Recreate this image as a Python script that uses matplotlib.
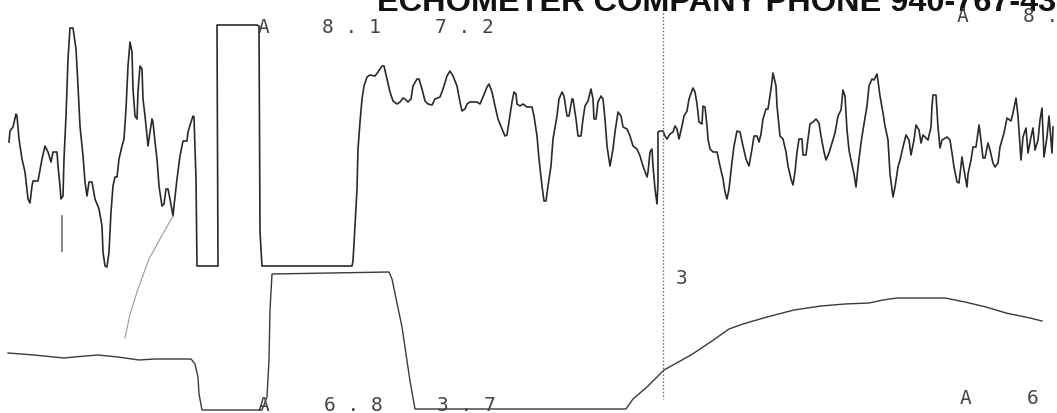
import numpy as np
import matplotlib.pyplot as plt

# chart is a scanned dynamometer/echometer strip; values are in picture units (y down)
upper_x = [9, 10, 13, 16, 17, 19, 22, 25, 28, 30, 32, 33, 38, 42, 45, 48, 51, 53, 57, 58,
           60, 61, 63, 64, 66, 68, 70, 73, 76, 78, 80, 83, 85, 87, 89, 92, 95, 99, 102, 103,
           105, 107, 109, 111, 113, 115, 117, 119, 122, 124, 126, 128, 130, 132, 133, 135, 137, 138, 140, 142,
           143, 145, 147, 148, 150, 152, 153, 155, 157, 159, 162, 164, 166, 168, 170, 173, 174, 177, 180, 183,
           187, 188, 191, 193, 194, 196, 197, 218, 217, 257, 259, 260, 262, 352, 353, 355, 357, 358, 360, 362,
           364, 367, 370, 375, 378, 382, 384, 387, 390, 393, 397, 400, 403, 405, 408, 411, 413, 417, 419, 422,
           425, 428, 432, 435, 440, 443, 447, 450, 453, 457, 460, 462, 465, 467, 470, 477, 480, 483, 487, 489,
           492, 495, 498, 502, 505, 507, 509, 512, 514, 516, 517, 520, 523, 527, 532, 534, 537, 539, 542, 544,
           546, 548, 551, 553, 557, 559, 562, 564, 567, 569, 572, 573, 576, 578, 581, 583, 585, 588, 591, 593,
           594, 596, 598, 601, 603, 605, 607, 610, 613, 615, 618, 621, 623, 627, 630, 633, 637, 640, 643, 647,
           648, 650, 652, 653, 655, 657, 658, 658, 660, 663, 665, 667, 670, 673, 675, 677, 679, 682, 684, 687,
           689, 693, 695, 697, 699, 702, 703, 705, 707, 708, 710, 713, 717, 720, 723, 725, 727, 729, 732, 734,
           737, 740, 743, 746, 749, 752, 754, 757, 759, 761, 763, 766, 768, 771, 773, 776, 777, 780, 783, 786,
           788, 791, 793, 795, 797, 799, 802, 803, 806, 808, 810, 813, 816, 819, 821, 824, 826, 829, 832, 835,
           838, 841, 843, 845, 847, 849, 851, 854, 856, 858, 861, 863, 867, 869, 872, 874, 877, 878, 880, 883,
           885, 888, 890, 893, 895, 898, 900, 903, 906, 909, 911, 914, 916, 919, 921, 923, 925, 928, 931, 932,
           933, 936, 938, 940, 942, 947, 950, 952, 954, 957, 959, 962, 964, 967, 968, 971, 973, 976, 979, 980,
           983, 985, 988, 990, 993, 995, 998, 1000, 1004, 1007, 1011, 1013, 1016, 1018, 1021, 1023, 1026, 1028, 1031, 1033,
           1035, 1038, 1040, 1042, 1044, 1047, 1049, 1052, 1053]
upper_y = [143, 132, 128, 115, 117, 140, 160, 173, 200, 204, 187, 182, 182, 160, 147, 153, 163, 153, 153, 167,
           187, 200, 197, 160, 117, 60, 29, 29, 50, 87, 127, 157, 183, 197, 183, 183, 200, 210, 227, 253,
           267, 268, 253, 213, 187, 178, 178, 160, 147, 140, 110, 67, 43, 53, 90, 117, 120, 93, 67, 70,
           100, 117, 137, 147, 133, 120, 123, 143, 160, 187, 207, 205, 190, 190, 200, 217, 207, 180, 157, 142,
           142, 133, 123, 117, 118, 180, 267, 267, 26, 26, 27, 233, 267, 267, 262, 227, 190, 150, 123, 100,
           87, 78, 76, 77, 73, 67, 67, 80, 93, 102, 105, 103, 99, 100, 103, 100, 87, 80, 80, 90,
           102, 105, 106, 100, 98, 90, 77, 72, 77, 87, 103, 112, 110, 105, 103, 103, 105, 98, 88, 85,
           93, 107, 120, 130, 137, 136, 123, 103, 93, 95, 105, 107, 105, 108, 108, 117, 137, 160, 187, 202,
           202, 187, 167, 140, 117, 100, 93, 97, 117, 117, 100, 100, 120, 137, 137, 120, 107, 102, 90, 100,
           120, 120, 103, 97, 100, 120, 147, 167, 150, 133, 113, 117, 128, 130, 137, 147, 150, 157, 167, 178,
           173, 153, 150, 167, 190, 205, 183, 133, 132, 132, 137, 140, 135, 133, 127, 130, 140, 127, 117, 112,
           100, 89, 93, 105, 123, 125, 107, 108, 127, 140, 150, 153, 153, 167, 180, 193, 200, 190, 163, 147,
           132, 133, 147, 160, 167, 150, 137, 137, 143, 135, 120, 110, 110, 90, 74, 87, 107, 137, 140, 153,
           167, 180, 186, 173, 153, 140, 140, 156, 156, 140, 125, 123, 120, 124, 137, 153, 161, 154, 144, 134,
           117, 111, 91, 97, 131, 151, 161, 175, 188, 168, 144, 131, 107, 87, 80, 81, 75, 82, 97, 114,
           127, 141, 175, 198, 188, 168, 161, 148, 136, 141, 156, 141, 126, 131, 144, 136, 138, 141, 128, 107,
           96, 96, 128, 149, 141, 138, 141, 154, 168, 183, 184, 158, 171, 188, 175, 161, 148, 148, 126, 133,
           159, 159, 144, 151, 164, 168, 164, 148, 134, 119, 122, 114, 99, 117, 161, 138, 129, 154, 138, 129,
           151, 141, 121, 109, 158, 138, 117, 154, 128]

lower_x = [8, 34, 64, 74, 98, 118, 139, 155, 191, 195, 198, 199, 202, 262, 267, 269, 270, 272, 389, 392,
           402, 410, 415, 626, 633, 647, 664, 691, 712, 729, 743, 767, 794, 821, 845, 869, 883, 897, 945, 965,
           986, 1006, 1030, 1042]
lower_y = [354, 356, 359, 358, 356, 358, 361, 360, 360, 365, 378, 395, 411, 411, 398, 361, 311, 275, 273, 280,
           328, 382, 410, 410, 400, 388, 371, 356, 342, 330, 325, 318, 311, 307, 305, 304, 301, 299, 299, 303,
           308, 314, 319, 322]

pointer_x = [173, 160, 149, 138, 130, 125]
pointer_y = [217, 240, 260, 290, 315, 339]

tick_x = [62, 62]
tick_y = [217, 252]

cursor_x = 663
cursor_y = [0, 400]

title = "ECHOMETER COMPANY PHONE 940-767-4334"
labels = [("A", 258, 33), ("8 . 1", 322, 33), ("7 . 2", 435, 33),
          ("A", 957, 22), ("8 . 1", 1023, 22),
          ("A", 258, 411), ("6 . 8", 324, 411), ("3 . 7", 437, 411),
          ("A", 960, 404), ("6", 1027, 404), ("3", 676, 284)]

fig = plt.figure(figsize=(10.57, 4.14), dpi=100)
ax = fig.add_axes([0, 0, 1, 1])
ax.set_xlim(0, 1057)
ax.set_ylim(414, 0)
ax.axis("off")

ax.plot(upper_x, upper_y, color="#2a2a2a", lw=1.2)
ax.plot(lower_x, lower_y, color="#3a3a3a", lw=1.0)
ax.plot(pointer_x, pointer_y, color="#9a9a9a", lw=0.8)
ax.plot(tick_x, tick_y, color="#777777", lw=1.2)
ax.plot([cursor_x, cursor_x], cursor_y, color="#666666", lw=1.0, linestyle=(0, (1, 1.5)))

ax.text(377, 11, title, family="Liberation Sans", weight="bold", fontsize=23.4,
        color="#111111", ha="left", va="baseline", clip_on=False)

for txt, x, y in labels:
    ax.text(x, y, txt, family="DejaVu Sans Mono", fontsize=14, color="#444444",
            ha="left", va="baseline")

fig.savefig("out.png", dpi=100)
